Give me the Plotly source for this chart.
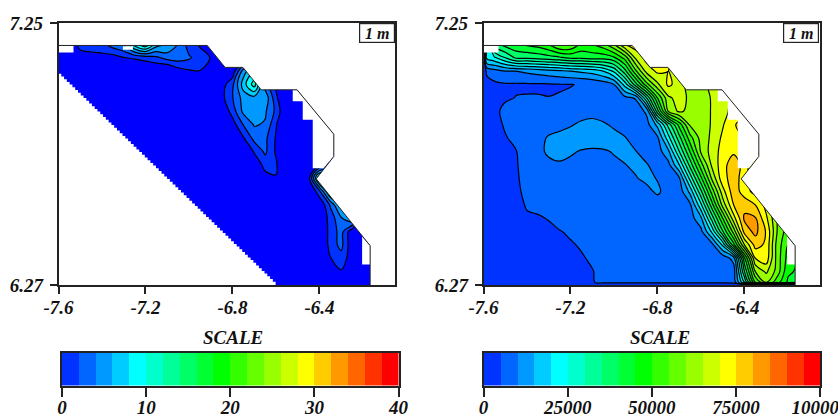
import plotly.graph_objects as go

W, H = 838, 415
FONT = "Liberation Serif"

band_colors = ["#0000ff", "#0033ff", "#0066ff", "#0099ff", "#00ccff", "#00ffff", "#00ffcc",
               "#00ff99", "#00ff66", "#00ff33", "#00ff00", "#33ff00", "#66ff00", "#99ff00",
               "#ccff00", "#ffff00", "#ffcc00", "#ff9900", "#ff6600", "#ff3300", "#ff0000"]

lat_rows = [7.17, 7.12, 7.07, 7.02, 6.97, 6.92, 6.87, 6.82, 6.77, 6.72, 6.67, 6.62, 6.57, 6.52, 6.47, 6.42, 6.37, 6.32, 6.27]
left_lon = [-7.6, -7.55, -7.5, -7.45, -7.4, -7.35, -7.3, -7.25, -7.2, -7.15, -7.1, -7.05, -7.0, -6.95, -6.9,
            -6.85, -6.8, -6.75, -6.7, -6.65, -6.6, -6.55, -6.5, -6.45, -6.4, -6.35, -6.3, -6.25, -6.2, -6.15]
left_z = [
 [-2,-1,.5,.8,1.5,3,4.2,9,12,7,6,4,1,-.3,-1,-2,-2,-2,-2,-2,-2,-2,-2,-2,-2,-2,-2,-2,-2,-2],
 [-3,-1,-.7,-.6,-.8,-.9,-.1,.4,.8,1.5,2.8,3,2.3,1,-.1,-1.5,-2,-2,-2,-2,-2,-2,-2,-2,-2,-2,-2,-2,-2,-2],
 [-3,-3,-3,-3,-3,-3,-3,-3.6,-2.4,-2.25,-2.8,-1,-.25,-.05,-.1,-2,-1.5,5,8,2,-2,-3,-3,-3,-3,-3,-3,-3,-3,-3],
 [-3,-3,-3,-3,-3,-3,-3,-3,-3,-3,-3,-3,-3,-3,-3,-1,1.5,7,11,3,-.5,-3,-3,-3,-3,-3,-3,-3,-3,-3],
 [-3,-3,-3,-3,-3,-3,-3,-3,-3,-3,-3,-3,-3,-3,-3,-.7,1.9,4.8,5.3,5.5,.5,-3,-3,-3,-3,-3,-3,-3,-3,-3],
 [-3,-3,-3,-3,-3,-3,-3,-3,-3,-3,-3,-3,-3,-3,-3,-2,.9,4.5,4.7,4.3,1.5,-2.5,-3,-3,-3,-3,-3,-3,-3,-3],
 [-3,-3,-3,-3,-3,-3,-3,-3,-3,-3,-3,-3,-3,-3,-3,-3,-1,2.1,4.2,3.8,.2,-3,-3,-3,-3,-3,-3,-3,-3,-3],
 [-3,-3,-3,-3,-3,-3,-3,-3,-3,-3,-3,-3,-3,-3,-3,-3,-3,-.2,2.7,2.5,-.2,-3,-3,-3,-3,-3,-3,-3,-3,-3],
 [-3,-3,-3,-3,-3,-3,-3,-3,-3,-3,-3,-3,-3,-3,-3,-3,-3,-3,.3,2.4,-.3,-3,-3,-3,-3,-3,-3,-3,-3,-3],
 [-3,-3,-3,-3,-3,-3,-3,-3,-3,-3,-3,-3,-3,-3,-3,-3,-3,-3,-2,.9,.3,-3,-3,-2,-.5,-1,-3,-3,-3,-3],
 [-3,-3,-3,-3,-3,-3,-3,-3,-3,-3,-3,-3,-3,-3,-3,-3,-3,-3,-3,-1,-.1,-3,-3,-1,10,10,-3,-3,-3,-3],
 [-3,-3,-3,-3,-3,-3,-3,-3,-3,-3,-3,-3,-3,-3,-3,-3,-3,-3,-3,-3,-3,-3,-3,-3,1.5,9,9,-3,-3,-3],
 [-3,-3,-3,-3,-3,-3,-3,-3,-3,-3,-3,-3,-3,-3,-3,-3,-3,-3,-3,-3,-3,-3,-3,-3,-2,2.3,7,7,-3,-3],
 [-3,-3,-3,-3,-3,-3,-3,-3,-3,-3,-3,-3,-3,-3,-3,-3,-3,-3,-3,-3,-3,-3,-3,-3,-2,.8,3.8,6,-3,-3],
 [-3,-3,-3,-3,-3,-3,-3,-3,-3,-3,-3,-3,-3,-3,-3,-3,-3,-3,-3,-3,-3,-3,-3,-3,-2.5,.8,2.8,-1.5,-3,-3],
 [-3,-3,-3,-3,-3,-3,-3,-3,-3,-3,-3,-3,-3,-3,-3,-3,-3,-3,-3,-3,-3,-3,-3,-3,-3,.9,2.6,-1.5,-3,-3],
 [-3,-3,-3,-3,-3,-3,-3,-3,-3,-3,-3,-3,-3,-3,-3,-3,-3,-3,-3,-3,-3,-3,-3,-3,-3,-.1,1.2,-1.2,-3,-3],
 [-3,-3,-3,-3,-3,-3,-3,-3,-3,-3,-3,-3,-3,-3,-3,-3,-3,-3,-3,-3,-3,-3,-3,-3,-3,-1.5,-.2,-2,-3,-3],
 [-3,-3,-3,-3,-3,-3,-3,-3,-3,-3,-3,-3,-3,-3,-3,-3,-3,-3,-3,-3,-3,-3,-3,-3,-3,-3,-3,-3,-3,-3],
]

right_lat = [7.17, 7.12, 7.07, 7.02, 6.97, 6.92, 6.87, 6.82, 6.77, 6.72, 6.67, 6.62, 6.57, 6.52, 6.47, 6.42, 6.37, 6.32, 6.28, 6.27]
right_lon = [-7.6, -7.585, -7.55, -7.5, -7.45, -7.4, -7.35, -7.3, -7.25, -7.2, -7.15, -7.1, -7.05, -7.0, -6.95, -6.9,
             -6.85, -6.8, -6.75, -6.7, -6.65, -6.6, -6.55, -6.5, -6.45, -6.4, -6.35, -6.3, -6.25, -6.2, -6.15]
right_z_thousands = [
 [1,18,38,42,44,46,47,50,56,55,49,50,53,60,70,73,73,72,72,72,72,72,72,72,72,72,72,72,72,72,72],
 [1,22,24,30,36,36,37,38,39,41,41,42,42,44,52,66,72,72,70,68,66,66,67,70,72,72,72,72,72,72,72],
 [1,6,8,10,10,11,12,13,14,15,16,17,20,26,38,54,67,71,70,68,64,62,65,70,72,72,72,72,72,72,72],
 [1,3,4,4.5,4.5,4.5,4.5,4.6,4.8,4.9,5.2,6,7,10,22,38,53,64,71,68,62,62,67,72,73,73,73,73,73,73,73],
 [1,3,4,4.5,5.1,5.2,5.2,5.05,5.15,5.4,5.8,6.5,7,8,8.5,10.5,30,50,64,67,64,62,65.5,69,71,72,72,72,72,72,72],
 [1,2.5,4,6,6.5,6.5,6.8,7.2,7.5,8,8.5,8.8,8.5,8,7.5,7,11,38,60.5,66,63.5,61.5,65.5,69,71,72,72,72,72,72,72],
 [1,2,3.5,5.5,6,6.5,7.5,8,9,9.7,10.6,11,10.4,9.5,8.5,7.5,8,16.5,32,47,61,62,65.5,69.5,74.5,77,77,77,77,77,77],
 [1,2,3,4.7,6,7,8.5,10.5,11,11.5,11.7,11.8,11.5,11,10.2,8.5,7,9,23,38,53,62,66,71,73.5,75.2,75.2,75.2,75.2,75.2,75.2],
 [1,2,3,3.8,4.9,6.5,8.8,10.8,10.8,10.4,9.8,9.5,9.7,10.2,10.9,10.1,8,7.5,14,30,45.5,61,67,72,74,74,72,70,70,70,70],
 [1,2,3,3.6,4.8,6,7.5,9,9.7,9.3,8.8,8.8,9,9.5,9.9,10.7,10.3,8,8.5,20,37,53,66,73,78,73,65,60,60,60,60],
 [1,2,3,3.5,4.7,5.8,6.8,7.5,7.8,8,8,8.2,8.3,8.6,9,9.8,10.8,9.8,8,9.5,27,44,61,73.5,77,73,65,60,60,60,60],
 [1,2,3,3.4,4.6,5.5,6,6.5,7,7.2,7.3,7.5,7.6,7.8,8,8.4,9.1,10.6,8.5,7,16.5,34,52,68,78,72.5,68,60,58,58,58],
 [1,2,3,3.3,4,5.3,5.5,5.8,6.2,6.5,6.7,6.9,7,7.2,7.3,7.5,7.8,8.3,8.3,7.5,9,24,43,62,75,78,75,68,60,58,58],
 [1,2,2.8,3.2,3.8,4.6,4.8,5.1,5.8,6.2,6.4,6.6,6.8,7,7.2,7.3,7.4,7.5,7.5,7.5,7.5,14,32,50,68,81,80.5,71,60,55,55],
 [1,2,2.8,3,3.5,4,4.3,4.6,4.9,5.3,5.8,6,6.3,6.6,6.8,7,7,7.2,7.2,7.2,7.5,8.5,21,39.5,57,77,81.5,74.5,60,52,52],
 [1,2,2.6,2.8,3.2,3.6,3.8,4,4.3,4.8,5.2,5.6,5.9,6.2,6.5,6.8,6.8,7,7,7,7,7,8,21,43,65,77,74,58,50,48],
 [1,2,2.4,2.6,3,3.3,3.5,3.7,3.9,4.2,4.8,5.3,5.6,5.8,6,6.2,6.4,6.5,6.5,6.5,6.5,6.5,6.5,6.5,12,44,70,73,58,48,45],
 [1,2,2.3,2.5,2.8,3,3.2,3.4,3.6,3.9,4.5,4.9,5.6,5.7,5.8,5.9,6,6,6,6,6,6,6,6.2,7,35,60,66,58,46,44],
 [1,2,2.2,2.4,2.6,2.8,3,3.2,3.4,3.6,4.2,4.7,6,6,6,6,6,6,6,6,6,6,6,6,6.5,25,50,60,52,44,40],
 [1,1,1,1,1,1,1,1,1,1,1,1,1,1,1,1,1,1,1,1,1,1,1,1,1,1,1,1,1,1,1],
]

coast_lon = [-7.6, -6.916, -6.834, -6.752, -6.668, -6.503, -6.334, -6.334, -6.415, -6.167, -6.167]
coast_lat = [7.166, 7.166, 7.084, 7.084, 7.0, 7.0, 6.834, 6.751, 6.667, 6.417, 6.27]
outside_lon = coast_lon + [-6.055, -6.055, -7.6]
outside_lat = coast_lat + [6.27, 7.25, 7.25]
stairs_lon = [-6.523, -6.523, -6.477, -6.477, -6.431, -6.431, -6.382, -6.334, -6.334, -6.503]
stairs_lat = [7.0, 6.957, 6.957, 6.888, 6.888, 6.707, 6.707, 6.751, 6.834, 7.0]
corner_lon = [-7.6, -7.531, -7.531, -7.6]
corner_lat = [7.166, 7.166, 7.14, 7.14]
south_lon = [-6.204, -6.167, -6.167, -6.204]
south_lat = [6.451, 6.417, 6.347, 6.347]
patch_lon = [-7.304, -7.258, -7.258, -7.304]
patch_lat = [7.163, 7.163, 7.15, 7.15]

# Stepped edge of the model grid along the south-west: one cell is about 0.0128 x 0.0101 degrees.
diag_lon, diag_lat = [-7.6], [7.06]
for step in range(1, 79):
    diag_lon += [-7.6 + step * 0.0128, -7.6 + step * 0.0128]
    diag_lat += [7.06 - (step - 1) * 0.0101, 7.06 - step * 0.0101]
diag_lon += [diag_lon[-1], -7.6]
diag_lat += [6.26, 6.26]

left_scale_centers = [1, 3, 5, 7, 9, 11, 13, 15, 17, 19, 21, 23, 25, 27, 29, 31, 33, 35, 37, 39]
right_scale_centers = [2500, 7500, 12500, 17500, 22500, 27500, 32500, 37500, 42500, 47500,
                       52500, 57500, 62500, 67500, 72500, 77500, 82500, 87500, 92500, 97500]
left_ticks = [0, 10, 20, 30, 40]
right_ticks = [0, 25000, 50000, 75000, 100000]
lon_ticks = [-7.6, -7.2, -6.8, -6.4]
lat_ticks = [6.27, 7.25]

colorscale = [[i / 20, c] for i, c in enumerate(band_colors)]
tickfont = dict(family=FONT, size=19, color="#111", weight="bold", style="italic")


def px(x0, x1):
    return [x0 / W, x1 / W]


def py(y0, y1):
    return [1 - y1 / H, 1 - y0 / H]


fig = go.Figure()


def mask(lon, lat, xa, ya):
    fig.add_trace(go.Scatter(x=lon, y=lat, xaxis=xa, yaxis=ya, mode="lines", fill="toself",
                             fillcolor="white", line=dict(width=0, color="white"),
                             hoverinfo="skip", showlegend=False))


def panel(xs, ys, z, start, end, size, xa, ya, extra_masks):
    fig.add_trace(go.Contour(x=xs, y=ys[::-1], z=z[::-1], xaxis=xa, yaxis=ya, autocontour=False,
                             contours=dict(start=start, end=end, size=size, coloring="fill"),
                             colorscale=colorscale, showscale=False,
                             line=dict(color="#000", width=1.2, smoothing=1), hoverinfo="skip"))
    for lon, lat in [(outside_lon, outside_lat), (stairs_lon, stairs_lat), (corner_lon, corner_lat),
                     (south_lon, south_lat)] + extra_masks:
        mask(lon, lat, xa, ya)
    fig.add_trace(go.Scatter(x=coast_lon, y=coast_lat, xaxis=xa, yaxis=ya, mode="lines",
                             line=dict(color="#222", width=1), hoverinfo="skip", showlegend=False))


panel(left_lon, lat_rows, left_z, 0, 38, 2, "x", "y", [(diag_lon, diag_lat), (patch_lon, patch_lat)])
right_z = [[v * 1000 for v in row] for row in right_z_thousands]
panel(right_lon, right_lat, right_z, 0, 95000, 5000, "x2", "y2", [])

fig.add_trace(go.Bar(x=left_scale_centers, y=[1] * 20, width=2, marker=dict(color=band_colors[1:], line_width=0),
                     xaxis="x3", yaxis="y3", hoverinfo="skip", showlegend=False))
fig.add_trace(go.Bar(x=right_scale_centers, y=[1] * 20, width=5000, marker=dict(color=band_colors[1:], line_width=0),
                     xaxis="x4", yaxis="y4", hoverinfo="skip", showlegend=False))

lon_axis = dict(range=[-7.6, -6.055], tickvals=lon_ticks, ticktext=["-7.6", "-7.2", "-6.8", "-6.4"], ticks="outside",
                ticklen=7, tickwidth=1.5, tickcolor="#222", showgrid=False, zeroline=False, showline=True, mirror=True,
                linecolor="#222", linewidth=1.5, tickfont=tickfont, ticklabelstandoff=-3, automargin=False)
lat_axis = dict(range=[6.27, 7.25], tickvals=lat_ticks, ticktext=["6.27", "7.25"], ticks="outside", ticklen=7,
                tickwidth=1.5, tickcolor="#222", showgrid=False, zeroline=False, showline=True, mirror=True,
                linecolor="#222", linewidth=1.5, tickfont=tickfont, ticklabelstandoff=3, automargin=False)
bar_y = dict(range=[0, 1], showticklabels=False, ticks="", showgrid=False, zeroline=False, showline=True, mirror=True,
             linecolor="#222", linewidth=1.5, automargin=False)


def bar_x(maxv, ticks):
    return dict(range=[0, maxv], tickvals=ticks, ticktext=[str(t) for t in ticks], ticks="outside", ticklen=10,
                tickwidth=1.5, tickcolor="#222", showgrid=False, zeroline=False, showline=True, mirror=True,
                linecolor="#222", linewidth=1.5, tickfont=tickfont, ticklabelstandoff=-6, automargin=False,
                ticklabeloverflow="allow")


labels = []
for text, x, y, size in [("SCALE", 233, 337, 19), ("SCALE", 660, 337, 19)]:
    labels.append(dict(text=text, x=x / W, y=1 - y / H, xref="paper", yref="paper", showarrow=False,
                       xanchor="center", yanchor="middle",
                       font=dict(family=FONT, size=size, color="#111", weight="bold", style="italic")))
for x in [376.5, 800.5]:
    labels.append(dict(text="1 m", x=x / W, y=1 - 33 / H, xref="paper", yref="paper", showarrow=False, width=34,
                       height=18, bgcolor="white", bordercolor="#222", borderwidth=1.2, borderpad=0,
                       xanchor="center", yanchor="middle",
                       font=dict(family=FONT, size=16, color="#111", weight="bold", style="italic")))

fig.update_layout(
    template="none",
    width=W, height=H, margin=dict(l=0, r=0, t=0, b=0, pad=0), autosize=False, paper_bgcolor="white", plot_bgcolor="white",
    showlegend=False, bargap=0, annotations=labels,
    xaxis=dict(lon_axis, domain=px(58.5, 394.5), anchor="y"),
    yaxis=dict(lat_axis, domain=py(23, 285), anchor="x"),
    xaxis2=dict(lon_axis, domain=px(483.5, 819.5), anchor="y2"),
    yaxis2=dict(lat_axis, domain=py(23, 285), anchor="x2"),
    xaxis3=dict(bar_x(40, left_ticks), domain=px(62, 398.5), anchor="y3"),
    yaxis3=dict(bar_y, domain=py(352.5, 385.5), anchor="x3"),
    xaxis4=dict(bar_x(100000, right_ticks), domain=px(483.5, 820), anchor="y4"),
    yaxis4=dict(bar_y, domain=py(352.5, 385.5), anchor="x4"),
)

fig.write_html("out.html", config={"displayModeBar": False},
               post_script="document.body.style.margin='0';document.body.style.overflow='hidden';")
